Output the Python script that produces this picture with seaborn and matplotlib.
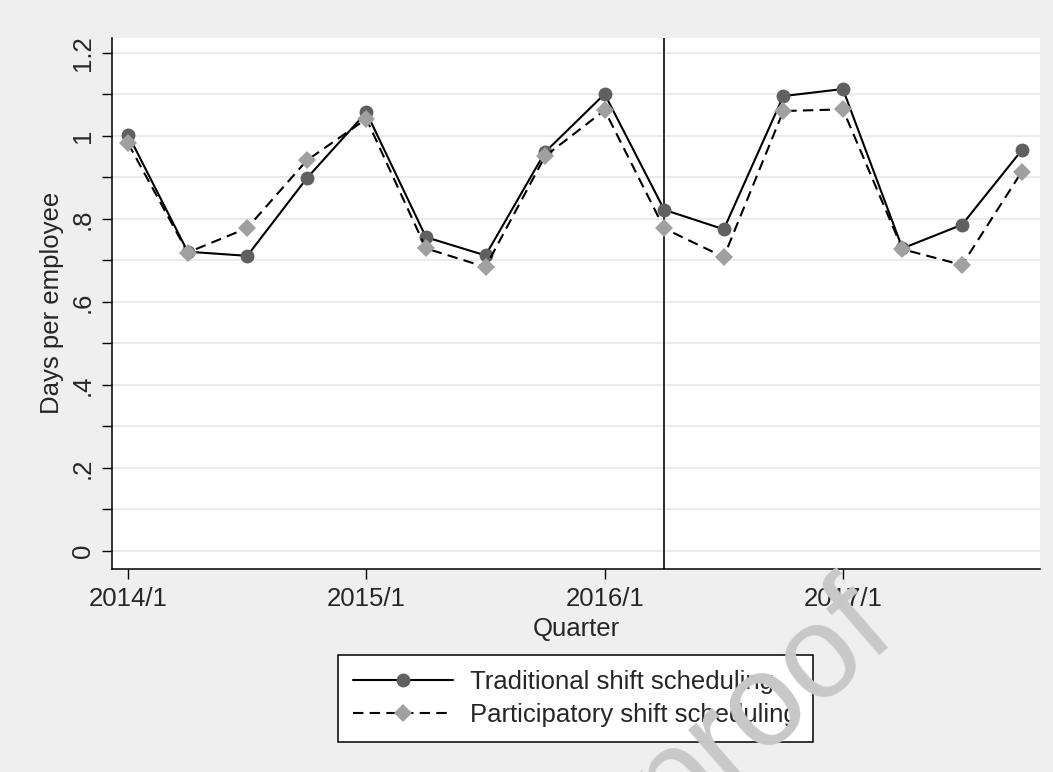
import matplotlib
matplotlib.use("Agg")
import matplotlib.pyplot as plt
import numpy as np
import pandas as pd
import seaborn as sns

# data
quarters = ['2014/1', '2014/2', '2014/3', '2014/4',
            '2015/1', '2015/2', '2015/3', '2015/4',
            '2016/1', '2016/2', '2016/3', '2016/4',
            '2017/1', '2017/2', '2017/3', '2017/4']
traditional = [1.003, 0.721, 0.711, 0.898, 1.057, 0.756, 0.712, 0.961,
               1.101, 0.822, 0.775, 1.096, 1.113, 0.729, 0.786, 0.965]
participatory = [0.982, 0.719, 0.778, 0.941, 1.041, 0.729, 0.684, 0.951,
                 1.062, 0.777, 0.708, 1.060, 1.064, 0.727, 0.689, 0.913]
intervention = '2016/2'
ytick_vals = [0, 0.2, 0.4, 0.6, 0.8, 1.0, 1.2]
ytick_labels = ['0', '.2', '.4', '.6', '.8', '1', '1.2']

df = pd.DataFrame({'q': np.arange(len(quarters)), 'quarter': quarters,
                   'trad': traditional, 'part': participatory})

sns.set_theme(style='white')
plt.rcParams['font.family'] = ['Liberation Sans', 'DejaVu Sans']
fs = 18.5
plt.rcParams['font.size'] = fs

bg = '#efefef'
fig, ax = plt.subplots(figsize=(10.53, 7.72), dpi=100, facecolor=bg)
fig.subplots_adjust(left=0.1064, right=0.9877, top=0.9508, bottom=0.2633)
ax.set_facecolor('white')

sns.lineplot(data=df, x='q', y='trad', ax=ax, color='black', lw=1.5,
             marker='o', markersize=10, markerfacecolor='#606060',
             markeredgecolor='#606060', markeredgewidth=0,
             label='Traditional shift scheduling', zorder=3)
sns.lineplot(data=df, x='q', y='part', ax=ax, color='black', lw=1.5,
             dashes=(5, 3), marker='D', markersize=9, markerfacecolor='#a0a0a0',
             markeredgecolor='#a0a0a0', markeredgewidth=0,
             label='Participatory shift scheduling', zorder=4)

ax.axvline(quarters.index(intervention), color='#2a2a2a', lw=1.4, zorder=2)

ax.set_xlim(-0.27, 15.31)
ax.set_ylim(-0.043, 1.236)
ax.set_xticks(df['q'][::4])
ax.set_xticklabels(quarters[::4])
ax.set_yticks(ytick_vals)
ax.set_yticklabels(ytick_labels, rotation=90, va='center')
ax.set_yticks(np.arange(0.1, 1.2, 0.2), minor=True)
ax.grid(axis='y', which='both', color='#e6e6e6', lw=1.1, zorder=0)
ax.set_axisbelow(True)

ax.tick_params(axis='both', which='both', direction='out', length=7.2,
               width=1, color='black', labelsize=fs, left=True, bottom=True)
ax.tick_params(axis='y', pad=5)
ax.tick_params(axis='x', pad=6)
for s in ['top', 'right']:
    ax.spines[s].set_visible(False)
for s in ['left', 'bottom']:
    ax.spines[s].set_color('black')
    ax.spines[s].set_linewidth(1.1)

ax.set_xlabel('Quarter', fontsize=fs, labelpad=4)
ax.set_ylabel('Days per employee', fontsize=fs, labelpad=5)

leg = ax.legend(loc='center', bbox_to_anchor=(0.5466, 0.0952),
                bbox_transform=fig.transFigure, fontsize=fs, frameon=True,
                fancybox=False, edgecolor='black', facecolor='white',
                framealpha=1, handlelength=3.9, handletextpad=0.65,
                labelspacing=0.32, borderpad=0.6, borderaxespad=0)
leg.get_frame().set_linewidth(1.1)

# faint watermark in the lower right
fig.text(0.853, 0.180, 'proof', fontsize=95, color='#c8c8c8',
         rotation=41, rotation_mode='anchor', ha='right', va='baseline',
         zorder=10)

fig.savefig('out.png', dpi=100, facecolor=bg)
